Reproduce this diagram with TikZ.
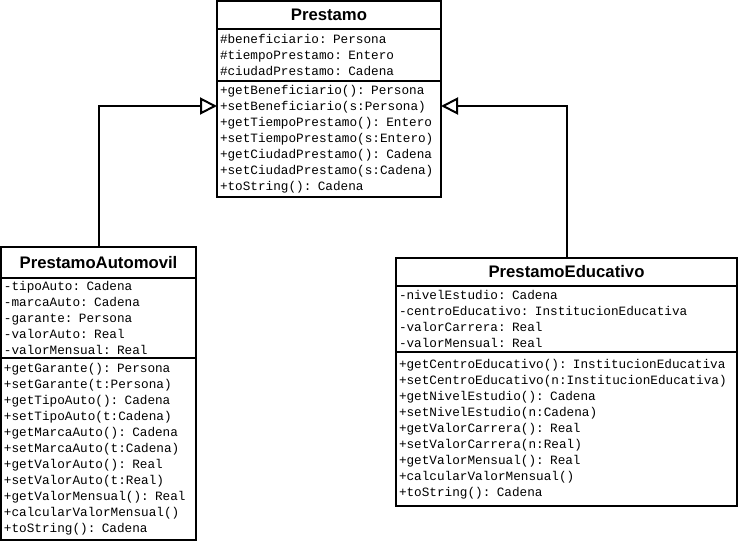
\documentclass[tikz,border=0pt]{standalone}
\usepackage{fontspec}
\setmonofont{Liberation Mono}
\newfontfamily\titlefont{Liberation Sans}
\usetikzlibrary{positioning,arrows.meta}
\tikzset{
  classname/.style={draw,line width=2pt,outer sep=0pt,inner sep=0pt,font=\titlefont\bfseries\fontsize{16.7}{18}\selectfont},
  classpart/.style={draw,line width=2pt,outer sep=0pt,inner xsep=3pt,inner ysep=0pt,align=left,font=\ttfamily\fontsize{12.7}{16}\selectfont},
  inherit/.style={line width=2pt,-{Triangle[open,length=17pt,width=17pt]}}
}

\begin{document}
\begin{tikzpicture}[x=1pt,y=-1pt]
\useasboundingbox[fill=white] (0,0) rectangle (739,543);
\node[classname,minimum width=224pt,minimum height=28pt,anchor=north west] (prestamo) at (217,1) {Prestamo};
\node[classpart,text width=218pt,minimum height=52pt,below=0pt of prestamo] (prestamo-attr)
{\#beneficiario: Persona\\
 \#tiempoPrestamo: Entero\\
 \#ciudadPrestamo: Cadena};
\node[classpart,text width=218pt,minimum height=116pt,below=0pt of prestamo-attr] (prestamo-meth)
{+getBeneficiario(): Persona\\
 +setBeneficiario(s:Persona)\\
 +getTiempoPrestamo(): Entero\\
 +setTiempoPrestamo(s:Entero)\\
 +getCiudadPrestamo(): Cadena\\
 +setCiudadPrestamo(s:Cadena)\\
 +toString(): Cadena};

\node[classname,minimum width=195pt,minimum height=31pt,anchor=north west] (automovil) at (1,247) {PrestamoAutomovil};
\node[classpart,text width=189pt,minimum height=80pt,below=0pt of automovil] (automovil-attr)
{-tipoAuto: Cadena\\
 -marcaAuto: Cadena\\
 -garante: Persona\\
 -valorAuto: Real\\
 -valorMensual: Real};
\node[classpart,text width=189pt,minimum height=182pt,below=0pt of automovil-attr] (automovil-meth)
{+getGarante(): Persona\\
 +setGarante(t:Persona)\\
 +getTipoAuto(): Cadena\\
 +setTipoAuto(t:Cadena)\\
 +getMarcaAuto(): Cadena\\
 +setMarcaAuto(t:Cadena)\\
 +getValorAuto(): Real\\
 +setValorAuto(t:Real)\\
 +getValorMensual(): Real\\
 +calcularValorMensual()\\
 +toString(): Cadena};

\node[classname,minimum width=341pt,minimum height=28pt,anchor=north west] (educativo) at (396,258) {PrestamoEducativo};
\node[classpart,text width=335pt,minimum height=66pt,below=0pt of educativo] (educativo-attr)
{-nivelEstudio: Cadena\\
 -centroEducativo: InstitucionEducativa\\
 -valorCarrera: Real\\
 -valorMensual: Real};
\node[classpart,text width=335pt,minimum height=154pt,below=0pt of educativo-attr] (educativo-meth)
{+getCentroEducativo(): InstitucionEducativa\\
 +setCentroEducativo(n:InstitucionEducativa)\\
 +getNivelEstudio(): Cadena\\
 +setNivelEstudio(n:Cadena)\\
 +getValorCarrera(): Real\\
 +setValorCarrera(n:Real)\\
 +getValorMensual(): Real\\
 +calcularValorMensual()\\
 +toString(): Cadena};

\draw[inherit] (automovil.north) |- ([yshift=33pt]prestamo-meth.west);
\draw[inherit] (educativo.north) |- ([yshift=33pt]prestamo-meth.east);
\end{tikzpicture}
\end{document}
